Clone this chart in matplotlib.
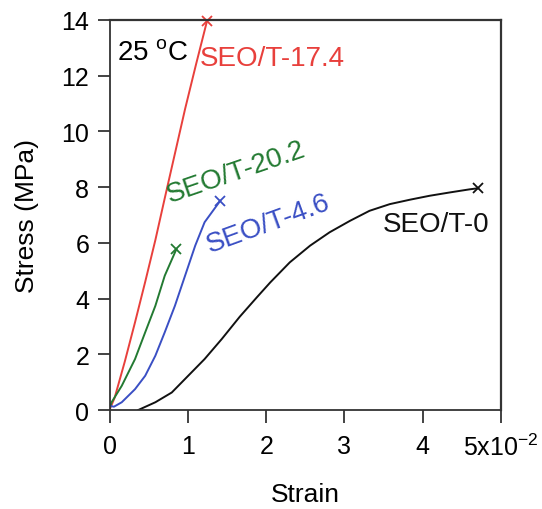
import matplotlib
matplotlib.use("Agg")
matplotlib.rcdefaults()
import matplotlib.pyplot as plt

plt.rcParams['font.family'] = ['Liberation Sans', 'DejaVu Sans']
plt.rcParams['mathtext.default'] = 'regular'

# Data (strain in units of 1e-2, stress in MPa)
red_x = [0.0, 0.06, 0.19, 0.32, 0.45, 0.58, 0.70, 0.83, 0.96, 1.10, 1.24]
red_y = [0.05, 0.45, 1.75, 3.15, 4.6, 6.1, 7.6, 9.2, 10.8, 12.4, 13.95]

green_x = [0.0, 0.02, 0.15, 0.32, 0.45, 0.58, 0.70, 0.85]
green_y = [0.1, 0.28, 0.87, 1.83, 2.79, 3.74, 4.82, 5.78]

blue_x = [0.0, 0.05, 0.15, 0.32, 0.45, 0.58, 0.70, 0.83, 0.96, 1.09, 1.21, 1.41]
blue_y = [0.15, 0.12, 0.28, 0.75, 1.23, 1.95, 2.79, 3.74, 4.82, 5.9, 6.74, 7.51]

black_x = [0.36, 0.58, 0.79, 1.0, 1.21, 1.43, 1.66, 1.88, 2.05, 2.30, 2.56, 2.81,
           3.07, 3.32, 3.58, 3.84, 4.09, 4.35, 4.60, 4.71]
black_y = [0.0, 0.28, 0.63, 1.23, 1.83, 2.55, 3.35, 4.05, 4.58, 5.30, 5.90, 6.38,
           6.79, 7.15, 7.39, 7.55, 7.69, 7.81, 7.92, 7.96]

xticks = [0, 1, 2, 3, 4, 5]
xticklabels = ['0', '1', '2', '3', '4', '5x10$^{-2}$']
yticks = [0, 2, 4, 6, 8, 10, 12, 14]

c_red = '#e8403c'
c_green = '#237a32'
c_blue = '#3a4fc4'
c_black = '#111111'
c_frame = '#333333'

fig = plt.figure(figsize=(5.42, 5.10), dpi=100)
ax = fig.add_axes([0.203, 0.194, 0.721, 0.765])

series = [(red_x, red_y, c_red), (green_x, green_y, c_green),
          (blue_x, blue_y, c_blue), (black_x, black_y, c_black)]
for xs, ys, c in series:
    ax.plot(xs, ys, color=c, lw=1.4, solid_joinstyle='round')
    ax.plot(xs[-1], ys[-1], marker='x', color=c, ms=7, mew=1.3, clip_on=False)

ax.set_xlim(0, 5)
ax.set_ylim(0, 14)
ax.set_xticks(xticks)
ax.set_xticklabels(xticklabels)
ax.set_yticks(yticks)
ax.tick_params(axis='both', direction='out', length=9, width=1.2,
               labelsize=18, colors='#222222', labelcolor='black',
               top=False, right=False)
ax.tick_params(axis='x', pad=8)
ax.tick_params(axis='y', pad=6)
for s in ax.spines.values():
    s.set_linewidth(1.3)
    s.set_color(c_frame)

# closing the frame on top and right at the axis limits
ax.axhline(ax.get_ylim()[1], color=c_frame, lw=1.6, clip_on=False, zorder=6)
ax.axvline(ax.get_xlim()[1], color=c_frame, lw=1.6, clip_on=False, zorder=6)

ax.set_xlabel('Strain', fontsize=19, labelpad=16)
ax.set_ylabel('Stress (MPa)', fontsize=19, labelpad=16)

ax.text(0.09, 12.6, '25 $^{o}$C', fontsize=20, color='black', va='baseline')
ax.text(1.15, 12.38, 'SEO/T-17.4', fontsize=20, color=c_red, va='baseline')
ax.text(0.77, 7.47, 'SEO/T-20.2', fontsize=20, color=c_green, va='baseline',
        rotation=19, rotation_mode='anchor')
ax.text(1.28, 5.67, 'SEO/T-4.6', fontsize=20, color=c_blue, va='baseline',
        rotation=20, rotation_mode='anchor')
ax.text(3.49, 6.42, 'SEO/T-0', fontsize=20, color=c_black, va='baseline')

fig.savefig('out.png', dpi=100)
